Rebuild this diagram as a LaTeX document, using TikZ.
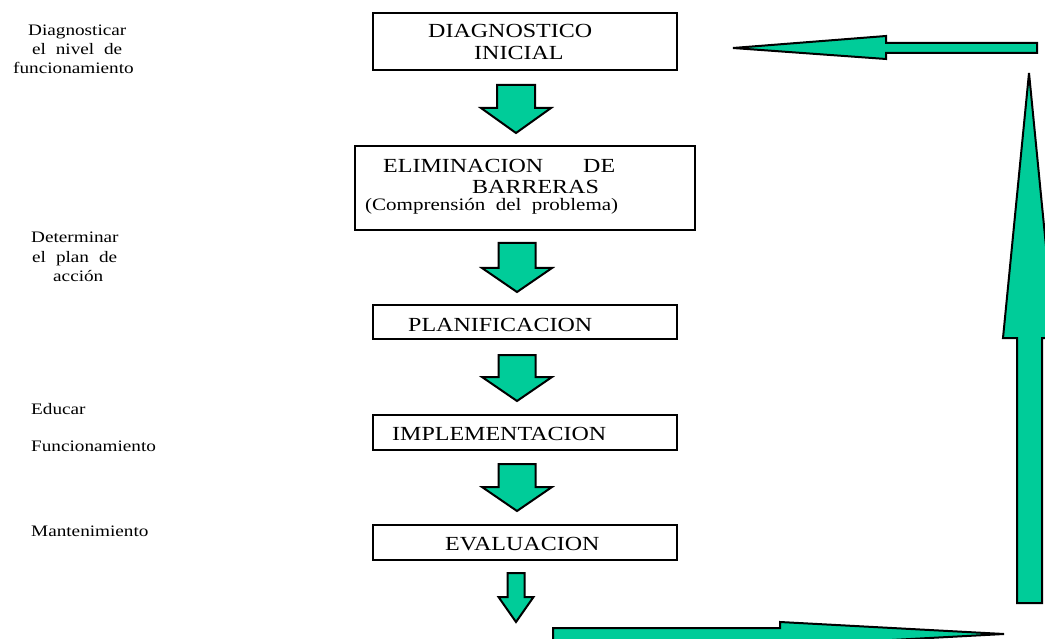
\documentclass[tikz,border=0pt]{standalone}
\usepackage{fontspec}
\setmainfont{Liberation Serif}
\newfontfamily\stfont[FakeStretch=1.2]{Liberation Serif}
\definecolor{arrgreen}{RGB}{0,204,153}
\tikzset{
  box/.style={draw=black, line width=2pt, fill=white, inner sep=0pt},
  blockarrow/.style={draw=black, line width=2pt, fill=arrgreen, line join=miter},
  bigtxt/.style={anchor=base west, inner sep=0pt, font=\stfont\fontsize{20}{24}\selectfont},
  midtxt/.style={anchor=base west, inner sep=0pt, font=\stfont\fontsize{17.5}{20}\selectfont},
  sidetxt/.style={anchor=base west, inner sep=0pt, font=\stfont\fontsize{16}{19}\selectfont}
}
% down block arrow: centre x, top y, head y, tip y, shaft half width, head half width
\newcommand\dnarrow[6]{%
  \draw[blockarrow] (#1-#5,#2) -- (#1+#5,#2) -- (#1+#5,#3) -- (#1+#6,#3)
    -- (#1,#4) -- (#1-#6,#3) -- (#1-#5,#3) -- cycle;}
\begin{document}
\begin{tikzpicture}[x=1pt,y=-1pt]
\useasboundingbox (0,0) rectangle (1045,639);
\clip (0,0) rectangle (1045,639);

% boxes
\node[box, minimum width=304pt, minimum height=57pt] (b1) at (525,41.5) {};
\node[box, minimum width=340pt, minimum height=84pt] (b2) at (525,188) {};
\node[box, minimum width=304pt, minimum height=34pt] (b3) at (525,322) {};
\node[box, minimum width=304pt, minimum height=35pt] (b4) at (525,432.5) {};
\node[box, minimum width=304pt, minimum height=35pt] (b5) at (525,542.5) {};

% box texts
\node[bigtxt] (t1a) at (428,38) {DIAGNOSTICO};
\node[bigtxt] (t1b) at (474,60) {INICIAL};
\node[bigtxt] (t2a) at (383,173) {\makebox[232pt][s]{ELIMINACION DE}};
\node[bigtxt] (t2b) at (472,194) {BARRERAS};
\node[midtxt] (t2c) at (365,211) {\makebox[253pt][s]{(Comprensión del problema)}};
\node[bigtxt] (t3) at (408,331) {PLANIFICACION};
\node[bigtxt] (t4) at (392,440) {IMPLEMENTACION};
\node[bigtxt] (t5) at (445,550) {EVALUACION};

% side texts
\node[sidetxt] (s1a) at (28,36) {Diagnosticar};
\node[sidetxt] (s1b) at (32,55) {\makebox[90pt][s]{el nivel de}};
\node[sidetxt] (s1c) at (13,74) {funcionamiento};
\node[sidetxt] (s2a) at (31,243) {Determinar};
\node[sidetxt] (s2b) at (32,263) {\makebox[85pt][s]{el plan de}};
\node[sidetxt] (s2c) at (53,282) {acción};
\node[sidetxt] (s3) at (31,414) {Educar};
\node[sidetxt] (s4) at (31,451) {Funcionamiento};
\node[sidetxt] (s5) at (31,536) {Mantenimiento};

% down arrows between boxes
\dnarrow{516}{85}{108}{133}{19}{35}
\dnarrow{517}{243}{268}{292}{18.5}{35}
\dnarrow{517}{355}{377}{401}{18.5}{35}
\dnarrow{517}{464}{487}{511}{18.5}{35}
\dnarrow{516}{573}{597}{622}{8.5}{17.5}

% return loop arrows
\draw[blockarrow] (553,640) -- (553,628) -- (780,628) -- (780,622) -- (1004,634)
  -- (780,646) -- (780,640) -- cycle;
\draw[blockarrow] (1017,603) -- (1017,338) -- (1003,338) -- (1029,73) -- (1055,338)
  -- (1042,338) -- (1042,603) -- cycle;
\draw[blockarrow] (1037,43) -- (886,43) -- (886,36) -- (733,48) -- (886,59)
  -- (886,53) -- (1037,53) -- cycle;
\end{tikzpicture}
\end{document}
